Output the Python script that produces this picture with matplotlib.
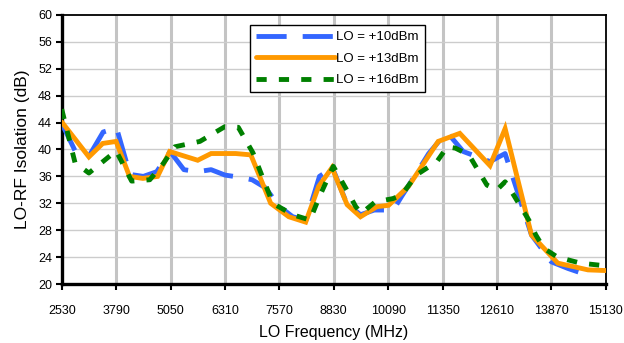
import matplotlib
matplotlib.use("Agg")
import matplotlib.pyplot as plt

plt.rcParams['font.family'] = ['Liberation Sans', 'DejaVu Sans']

# LO = +10dBm
freq_10 = [2530, 2840, 3160, 3490, 3800, 4110, 4420, 4730, 5040, 5360, 5680, 5990, 6310,
           6620, 6940, 7250, 7560, 7880, 8190, 8500, 8800, 9130, 9450, 9770, 10210, 10400,
           10720, 11030, 11450, 11830, 12450, 12800, 13410, 13870, 14260, 14810]
iso_10 = [43.9, 39.8, 39.0, 42.6, 43.2, 36.3, 36.0, 36.7, 39.7, 37.0, 36.7, 37.0, 36.2,
          35.9, 35.5, 34.3, 31.6, 30.0, 29.5, 36.0, 37.3, 32.0, 30.3, 31.0, 31.0, 33.0,
          36.2, 39.4, 42.6, 39.7, 38.2, 39.4, 27.3, 23.3, 22.3, 21.1]

# LO = +13dBm
freq_13 = [2530, 3160, 3480, 3790, 4100, 4410, 4750, 5030, 5680, 5990, 6560, 6910, 7370,
           7790, 8180, 8480, 8790, 9140, 9450, 9830, 10100, 10560, 11250, 11750, 12450,
           12800, 13410, 14020, 14720, 15130]
iso_13 = [44.1, 38.9, 40.9, 41.2, 36.0, 35.7, 36.0, 39.7, 38.4, 39.4, 39.4, 39.2, 32.0,
          30.0, 29.2, 34.5, 37.3, 31.8, 30.0, 31.5, 31.7, 34.5, 41.2, 42.4, 37.6,
          43.1, 27.3, 23.1, 22.1, 22.0]

# LO = +16dBm
freq_16 = [2530, 2840, 3160, 3790, 4150, 4570, 4880, 5150, 5730, 6310, 6620, 6960, 7420,
           7880, 8280, 8500, 8820, 9130, 9340, 9470, 9790, 10200, 10400, 10740, 11220,
           11460, 11650, 11960, 12380, 12610, 12800, 13000, 13350, 13510, 13700, 14010,
           14550, 15130]
iso_16 = [46.0, 38.0, 36.5, 39.8, 35.3, 35.5, 37.9, 40.4, 41.2, 43.4, 43.3, 39.5, 32.0,
          30.3, 29.5, 33.0, 37.5, 34.0, 31.5, 30.5, 32.2, 32.7, 33.2, 36.2, 38.2,
          40.4, 40.2, 39.2, 34.7, 34.0, 35.2, 33.2, 29.5, 27.3, 25.3, 24.0,
          23.1, 22.7]

x_ticks = [2530, 3790, 5050, 6310, 7570, 8830, 10090, 11350, 12610, 13870, 15130]
y_ticks = list(range(20, 61, 4))
labels = ['LO = +10dBm', 'LO = +13dBm', 'LO = +16dBm']

fig = plt.figure(figsize=(6.24, 3.43), dpi=100)
ax = fig.add_axes([0.0989, 0.172, 0.8718, 0.7843])

lw = 3.5
ax.plot(freq_10, iso_10, color='#3366FF', lw=lw, dashes=(6.2, 3.3),
        dash_capstyle='butt', label=labels[0], zorder=3)
ax.plot(freq_13, iso_13, color='#FF9900', lw=lw, solid_capstyle='round',
        solid_joinstyle='miter', label=labels[1], zorder=4)
ax.plot(freq_16, iso_16, color='#008000', lw=lw, dashes=(2.1, 2.5),
        dash_capstyle='butt', label=labels[2], zorder=5)

ax.set_xlim(2530, 15130)
ax.set_ylim(20, 60)
ax.set_xticks(x_ticks)
ax.set_yticks(y_ticks)
ax.set_xticklabels([str(t) for t in x_ticks])

for t in x_ticks[1:-1]:
    ax.axvline(t, color='#C4C4C4', lw=2.2, zorder=1)
for t in y_ticks[1:-1]:
    ax.axhline(t, color='#CCCCCC', lw=1.0, zorder=1)

for s in ['top', 'right']:
    ax.spines[s].set_linewidth(1.3)
for s in ['left', 'bottom']:
    ax.spines[s].set_linewidth(2.4)

ax.tick_params(axis='both', labelsize=9, direction='out', length=4, width=1.5, colors='black')
ax.tick_params(axis='x', pad=11)
ax.tick_params(axis='y', pad=3)

ax.set_xlabel('LO Frequency (MHz)', fontsize=11.5, labelpad=6)
ax.set_ylabel('LO-RF Isolation (dB)', fontsize=12.5, labelpad=6)

leg = ax.legend(loc='upper left', bbox_to_anchor=(0.3455, 0.962), fontsize=9.5,
                handlelength=6.0, handletextpad=0.1, labelspacing=0.7,
                borderpad=0.45, borderaxespad=0.0, fancybox=False, frameon=True,
                framealpha=1.0, edgecolor='black')
leg.get_frame().set_linewidth(1.0)

fig.savefig('out.png', dpi=100)
